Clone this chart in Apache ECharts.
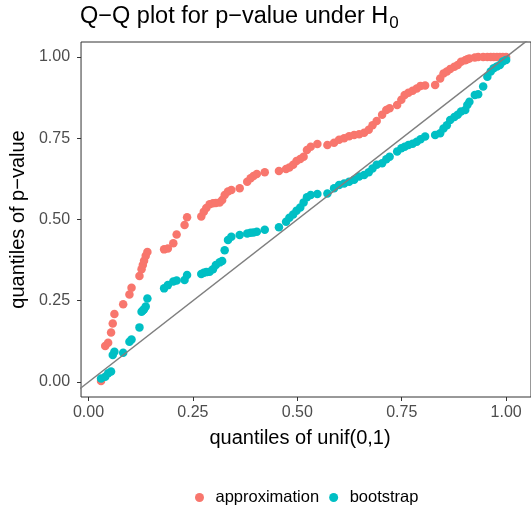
<!DOCTYPE html>
<html>
<head>
<meta charset="utf-8">
<script src="https://cdn.jsdelivr.net/npm/echarts@6/dist/echarts.min.js"></script>
<style>
  html, body { margin: 0; padding: 0; background: #fff; }
  #chart { width: 531px; height: 509px; }
</style>
</head>
<body>
<div id="chart"></div>
<script>
// quantiles of unif(0,1), shared by both samples
let unifQuantiles = [
    0.030, 0.040, 0.047, 0.054, 0.058, 0.062,
    0.083, 0.098, 0.103, 0.122,
    0.127, 0.130, 0.133, 0.137, 0.141,
    0.181, 0.190, 0.203, 0.211, 0.230, 0.236,
    0.270, 0.276, 0.282, 0.290, 0.298, 0.305, 0.314, 0.320, 0.326, 0.334, 0.342, 0.362,
    0.380, 0.388, 0.395, 0.403, 0.422,
    0.456, 0.473, 0.481, 0.490, 0.498, 0.507, 0.515, 0.523, 0.532, 0.548,
    0.572, 0.588, 0.600, 0.612, 0.624, 0.636, 0.648, 0.660, 0.671, 0.680, 0.690, 0.703, 0.713, 0.721,
    0.739, 0.749, 0.757, 0.766, 0.776, 0.786, 0.795, 0.806,
    0.830, 0.842, 0.850, 0.858, 0.866, 0.876, 0.884, 0.892, 0.902, 0.907, 0.912,
    0.925, 0.933, 0.945, 0.955, 0.963, 0.970, 0.978, 0.985, 0.992, 1.000
];

// quantiles of p-value, approximation
let approxQuantiles = [
    0.003, 0.111, 0.121, 0.152, 0.180, 0.209,
    0.239, 0.269, 0.290, 0.326,
    0.347, 0.360, 0.373, 0.388, 0.400,
    0.408, 0.411, 0.427, 0.454, 0.483, 0.507,
    0.509, 0.524, 0.535, 0.547, 0.550, 0.551, 0.552, 0.560, 0.575, 0.586, 0.591, 0.596,
    0.616, 0.627, 0.634, 0.640, 0.645,
    0.649, 0.655, 0.660, 0.668, 0.680, 0.686, 0.693, 0.714, 0.724, 0.732,
    0.729, 0.736, 0.745, 0.750, 0.756, 0.760, 0.762, 0.767, 0.776, 0.790, 0.803, 0.822, 0.837, 0.842,
    0.852, 0.868, 0.883, 0.890, 0.896, 0.903, 0.911, 0.912,
    0.914, 0.934, 0.949, 0.955, 0.963, 0.970, 0.975, 0.985, 0.990, 0.993, 0.995,
    0.998, 1.000, 1.000, 1.000, 1.000, 1.000, 1.000, 1.000, 1.000, 1.000
];

// quantiles of p-value, bootstrap
let bootQuantiles = [
    0.011, 0.016, 0.027, 0.032, 0.083, 0.093,
    0.090, 0.124, 0.131, 0.168,
    0.216, 0.220, 0.224, 0.232, 0.257,
    0.288, 0.298, 0.309, 0.312, 0.314, 0.329,
    0.332, 0.336, 0.338, 0.339, 0.347, 0.360, 0.368, 0.372, 0.405, 0.437, 0.447, 0.452,
    0.457, 0.459, 0.460, 0.462, 0.468,
    0.476, 0.493, 0.505, 0.515, 0.527, 0.537, 0.552, 0.568, 0.575, 0.578,
    0.580, 0.596, 0.606, 0.611, 0.616, 0.622, 0.632, 0.637, 0.645, 0.657, 0.668, 0.673, 0.685, 0.693,
    0.709, 0.719, 0.724, 0.729, 0.733, 0.739, 0.747, 0.755,
    0.760, 0.765, 0.780, 0.790, 0.806, 0.815, 0.822, 0.832, 0.837, 0.852, 0.862,
    0.883, 0.885, 0.909, 0.939, 0.955, 0.965, 0.971, 0.975, 0.986, 0.991
];

let tickValues = [0, 0.25, 0.5, 0.75, 1];
let seriesNames = ['approximation', 'bootstrap'];
let colors = ['#F8766D', '#00BFC4'];

const font = '"Liberation Sans", Arial, sans-serif';

function pairUp(ys) {
    return unifQuantiles.map((x, i) => [x, ys[i]]);
}

let chart = echarts.init(document.getElementById('chart'));

let axisCommon = {
    type: 'value',
    axisLine: { show: false, onZero: false },
    splitLine: { show: false },
    axisTick: {
        show: true,
        inside: false,
        length: 4,
        customValues: tickValues,
        lineStyle: { color: '#333333', width: 1 }
    },
    nameLocation: 'middle'
};

let option = {
    animation: false,
    backgroundColor: '#fff',
    color: colors,
    title: {
        text: 'Q\u2212Q plot for p\u2212value under H{s|0}',
        left: 75,
        top: -4,
        textStyle: {
            fontFamily: font,
            fontSize: 23.5,
            fontWeight: 'normal',
            color: '#000',
            rich: {
                s: { fontFamily: font, fontSize: 17, color: '#000', padding: [14, 0, 0, 1] }
            }
        }
    },
    grid: {
        left: 80,
        right: -2,
        top: 42,
        bottom: 112,
        show: true,
        borderColor: '#333333',
        borderWidth: 1,
        backgroundColor: 'transparent'
    },
    legend: {
        data: seriesNames,
        left: 190,
        top: 484,
        icon: 'circle',
        itemWidth: 22,
        itemHeight: 9,
        itemGap: 10,
        textStyle: { fontFamily: font, fontSize: 16.5, color: '#000' }
    },
    xAxis: Object.assign({}, axisCommon, {
        min: -0.0179,
        max: 1.0595,
        name: 'quantiles of unif(0,1)',
        nameGap: 31,
        nameTextStyle: { fontFamily: font, fontSize: 20, color: '#000', padding: [0, 12, 0, 0] },
        axisLabel: {
            customValues: tickValues,
            formatter: v => v.toFixed(2),
            margin: 8,
            fontFamily: font,
            fontSize: 16,
            color: '#4D4D4D'
        }
    }),
    yAxis: Object.assign({}, axisCommon, {
        min: -0.0462,
        max: 1.046,
        name: 'quantiles of p\u2212value',
        nameGap: 53,
        nameTextStyle: { fontFamily: font, fontSize: 20, color: '#000' },
        axisLabel: {
            customValues: tickValues,
            formatter: v => v.toFixed(2),
            margin: 11,
            fontFamily: font,
            fontSize: 16,
            color: '#4D4D4D'
        }
    }),
    series: [
        {
            name: seriesNames[0],
            type: 'scatter',
            symbolSize: 8.5,
            itemStyle: { color: colors[0], opacity: 1 },
            data: pairUp(approxQuantiles),
            z: 2
        },
        {
            name: seriesNames[1],
            type: 'scatter',
            symbolSize: 8.5,
            itemStyle: { color: colors[1], opacity: 1 },
            data: pairUp(bootQuantiles),
            z: 2
        },
        {
            // y = x reference line
            name: 'y=x',
            type: 'line',
            data: [[-0.1, -0.1], [1.1, 1.1]],
            showSymbol: false,
            clip: true,
            silent: true,
            lineStyle: { color: '#7F7F7F', width: 1.5 },
            z: 3
        }
    ]
};

chart.setOption(option);
</script>
</body>
</html>
